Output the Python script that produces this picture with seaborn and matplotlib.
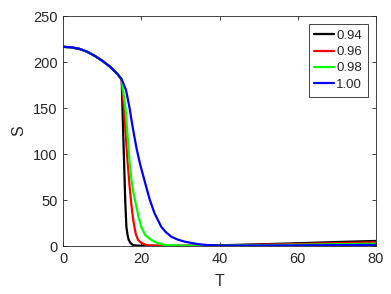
import numpy as np
import pandas as pd
import matplotlib
matplotlib.use("Agg")
import matplotlib.pyplot as plt
import seaborn as sns

# common part before the drop (all curves overlap)
T_common = [0, 2, 4, 6, 8, 10, 12, 14, 15]
S_common = [216.5, 216, 214.5, 211.5, 207, 201.5, 195, 186.5, 181]

# after the drop
T_094 = [15.2, 15.4, 15.6, 15.9, 16.2, 16.5, 16.8, 17.3, 17.9, 19, 22, 30, 40, 50, 60, 70, 80]
S_094 = [150, 120, 93, 50, 21, 12, 6.5, 3, 1, 0.4, 0.2, 0.2, 0.8, 1.8, 3.0, 4.3, 5.5]

T_096 = [15.3, 15.6, 16.0, 16.5, 17.0, 17.5, 18.0, 18.6, 19.2, 20, 21.3, 24, 30, 40, 50, 60, 70, 80]
S_096 = [165, 148, 122, 92, 66, 44, 27, 13, 6.5, 3.5, 1, 0.3, 0.2, 0.6, 1.4, 2.2, 3.1, 4.0]

T_098 = [15.4, 16.0, 16.5, 17.0, 17.5, 18.0, 18.7, 19.3, 20, 21, 22.6, 24, 26, 30, 40, 50, 60, 70, 80]
S_098 = [168, 148, 120, 92, 72, 58, 44, 32, 21, 12, 6.5, 3.5, 1.2, 0.4, 0.4, 0.9, 1.4, 2.0, 2.5]

T_100 = [15.5, 16.1, 16.6, 17.1, 17.5, 18.0, 18.8, 19.7, 20.9, 22.2, 23.4, 25.1, 26.3, 27.7,
         29.3, 31.1, 34.5, 37, 40, 50, 60, 70, 80]
S_100 = [176, 169.6, 159, 148, 137, 124.5, 106, 89, 70, 50, 35.5, 21, 15, 10,
         7, 4.7, 2, 1, 0.5, 0.5, 0.7, 1.0, 1.2]

labels = ["0.94", "0.96", "0.98", "1.00"]
colors = ["#000000", "#ff0000", "#00ff00", "#0000ff"]

series = {
    "0.94": (T_094, S_094),
    "0.96": (T_096, S_096),
    "0.98": (T_098, S_098),
    "1.00": (T_100, S_100),
}

rows = []
for lab in labels:
    t, s = series[lab]
    for ti, si in zip(T_common + t, S_common + s):
        rows.append({"T": ti, "S": si, "c": lab})
df = pd.DataFrame(rows)

sns.set_style("ticks")
plt.rcParams["font.family"] = ["Liberation Sans", "DejaVu Sans"]
plt.rcParams["xtick.direction"] = "in"
plt.rcParams["ytick.direction"] = "in"

fig = plt.figure(figsize=(3.91, 2.94), dpi=100)
ax = fig.add_axes([63 / 391, 48 / 294, 313 / 391, 230 / 294])

sns.lineplot(data=df, x="T", y="S", hue="c", palette=dict(zip(labels, colors)),
             estimator=None, sort=False, linewidth=1.6, ax=ax)

ax.set_xlim(0, 80)
ax.set_ylim(0, 250)
ax.set_xticks([0, 20, 40, 60, 80])
ax.set_yticks([0, 50, 100, 150, 200, 250])
ax.tick_params(top=True, right=True, length=3, width=0.6, labelsize=10.5, pad=4,
               color="#262626", labelcolor="#262626")
for sp in ax.spines.values():
    sp.set_linewidth(0.6)
    sp.set_color("#262626")
ax.set_xlabel("T", fontsize=11.5, color="#262626", labelpad=6)
ax.set_ylabel("S", fontsize=11.5, color="#262626", labelpad=5)

leg = ax.legend(loc="upper right", fontsize=9.5, frameon=True, fancybox=False,
                edgecolor="#262626", framealpha=1, handlelength=1.5,
                handletextpad=0.15, borderpad=0.45, labelspacing=0.3,
                borderaxespad=0.6)
leg.get_frame().set_linewidth(0.6)
leg.set_title(None)

fig.savefig("out.png", dpi=100)
